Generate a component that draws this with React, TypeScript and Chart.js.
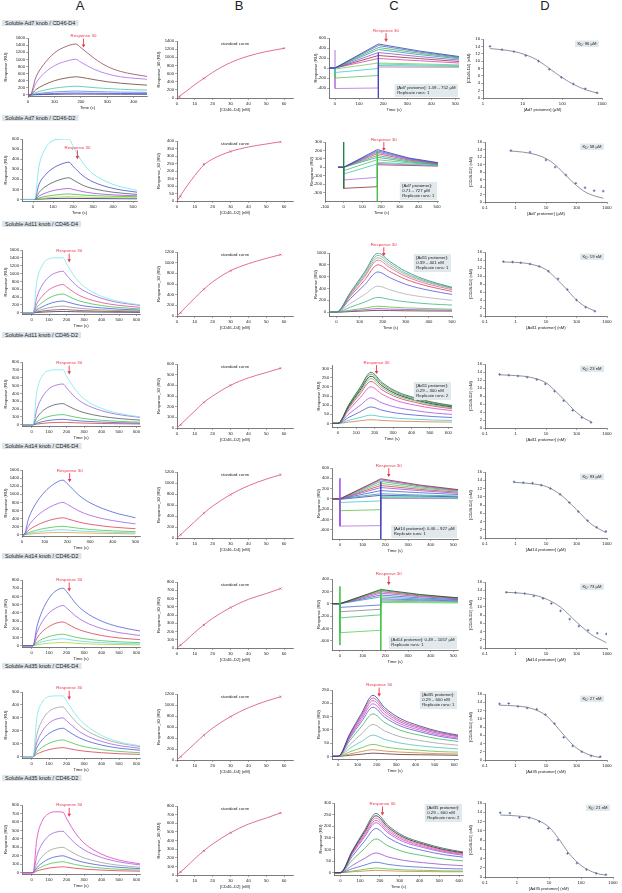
import React, { useEffect, useRef } from "react";
import { Chart, registerables } from "chart.js";

Chart.register(...registerables);

const FONT = "'Liberation Sans', Arial, Helvetica, sans-serif";
const TXT = "#222";
const RED = "#e8364e";

// ---------------- texts ----------------
const COLUMN_LETTERS = ["A", "B", "C", "D"];
const ROW_TITLES = [
  "Soluble Ad7 knob / CD46-D4",
  "Soluble Ad7 knob / CD46-D2",
  "Soluble Ad11 knob / CD46-D4",
  "Soluble Ad11 knob / CD46-D2",
  "Soluble Ad14 knob / CD46-D4",
  "Soluble Ad14 knob / CD46-D2",
  "Soluble Ad35 knob / CD46-D4",
  "Soluble Ad35 knob / CD46-D2",
];
const KD_LABELS = ["96 µM", "58 µM", "19 nM", "23 nM", "93 µM", "73 µM", "27 nM", "21 nM"];
const C_BOXES = [
  ["[Ad7 protomer]: 1.49 – 752 µM", "Replicate runs: 1"],
  ["[Ad7 protomer]:", "0.71 – 727 µM", "Replicate runs: 1"],
  ["[Ad11 protomer]:", "0.39 – 401 nM", "Replicate runs: 1"],
  ["[Ad11 protomer]:", "0.29 – 300 nM", "Replicate runs: 2"],
  ["[Ad14 protomer]: 0.46 – 927 µM", "Replicate runs: 1"],
  ["[Ad14 protomer]: 0.49 – 1057 µM", "Replicate runs: 1"],
  ["[Ad35 protomer]:", "0.29 – 600 nM", "Replicate runs: 1"],
  ["[Ad35 protomer]:", "0.29 – 600 nM", "Replicate runs: 2"],
];
const C_BOX_POS = ["br", "br", "tr", "mr", "br", "br", "tr", "tr"];
const B_X_TITLES = ["[CD46–D4] (nM)", "[CD46–D2] (nM)", "[CD46–D4] (nM)", "[CD46–D2] (nM)", "[CD46–D4] (nM)", "[CD46–D2] (nM)", "[CD46–D4] (nM)", "[CD46–D2] (nM)"];
const D_X_TITLES = ["[Ad7 protomer] (µM)", "[Ad7 protomer] (µM)", "[Ad11 protomer] (nM)", "[Ad11 protomer] (nM)", "[Ad14 protomer] (µM)", "[Ad14 protomer] (µM)", "[Ad35 protomer] (nM)", "[Ad35 protomer] (nM)"];
const D_Y_TITLES = ["[CD46-D4] (nM)", "[CD46-D2] (nM)", "[CD46-D4] (nM)", "[CD46-D2] (nM)", "[CD46-D4] (nM)", "[CD46-D2] (nM)", "[CD46-D4] (nM)", "[CD46-D2] (nM)"];

// ---------------- tick lists ----------------
const XT_400 = [0, 100, 200, 300, 400];
const XT_500 = [0, 100, 200, 300, 400, 500];
const XT_600 = [0, 100, 200, 300, 400, 500, 600];
const XT_M100 = [-100, 0, 100, 200, 300, 400, 500];
const XT_B = [0, 10, 20, 30, 40, 50, 60];
const XT_LOG1 = [1, 10, 100, 1000];
const XT_LOG01 = [0.1, 1, 10, 100, 1000];
const YT_1600 = [0, 200, 400, 600, 800, 1000, 1200, 1400, 1600];
const YT_1400 = [0, 200, 400, 600, 800, 1000, 1200, 1400];
const YT_1200 = [0, 200, 400, 600, 800, 1000, 1200];
const YT_1000 = [0, 200, 400, 600, 800, 1000];
const YT_800 = [0, 100, 200, 300, 400, 500, 600, 700, 800];
const YT_600 = [0, 100, 200, 300, 400, 500, 600];
const YT_500 = [0, 100, 200, 300, 400, 500];
const YT_400_50 = [0, 50, 100, 150, 200, 250, 300, 350, 400];
const YT_300_50 = [0, 50, 100, 150, 200, 250, 300];
const YT_250_50 = [0, 50, 100, 150, 200, 250];
const YT_C1 = [-400, -200, 0, 200, 400, 600];
const YT_C2 = [-300, -200, -100, 0, 100, 200, 300];
const YT_C5 = [-600, -400, -200, 0, 200, 400, 600];
const YT_C6 = [-600, -400, -200, 0, 200, 400];
const YT_16 = [0, 2, 4, 6, 8, 10, 12, 14, 16];

// ---------------- column A sensorgrams ----------------
const A1_T = [0, 8, 30, 60, 100, 140, 180, 200, 250, 300, 350, 400, 450];
const A1_Y = [
  [0, 0, 500, 860, 1180, 1350, 1430, 1330, 1030, 800, 660, 580, 520],
  [0, 0, 330, 600, 820, 940, 1000, 920, 720, 590, 510, 470, 440],
  [0, 0, 150, 280, 400, 470, 510, 495, 430, 370, 330, 300, 275],
  [0, 0, 70, 130, 190, 225, 245, 238, 205, 180, 160, 145, 135],
  [0, 0, 30, 58, 85, 100, 110, 106, 95, 87, 80, 75, 70],
  [0, 0, 14, 28, 40, 50, 55, 53, 48, 44, 41, 38, 36],
  [0, 0, 6, 12, 18, 22, 25, 24, 22, 21, 20, 19, 18],
];
const A1_C = ["#8e4a5a", "#a868f0", "#6e4030", "#40c8a8", "#6080e0", "#5050d0", "#303080"];

const A2_T = [-50, 8, 30, 60, 100, 140, 180, 200, 250, 300, 400, 520];
const A2_Y = [
  [0, 0, 330, 500, 585, 598, 600, 530, 360, 255, 150, 90],
  [0, 0, 150, 240, 310, 350, 370, 330, 235, 175, 110, 72],
  [0, 0, 70, 125, 170, 200, 215, 195, 140, 108, 72, 50],
  [0, 0, 35, 62, 88, 102, 110, 100, 78, 62, 46, 36],
  [0, 0, 16, 30, 42, 50, 55, 51, 44, 38, 32, 27],
  [0, 0, 8, 15, 22, 26, 28, 27, 24, 21, 18, 16],
  [0, 0, 3, 6, 9, 11, 12, 11, 10, 9, 8, 7],
];
const A2_C = ["#6ee8e4", "#4a4ad0", "#505a60", "#a050e0", "#40c040", "#b0d040", "#202080"];

const A3_T = [-50, 8, 30, 60, 100, 140, 180, 200, 250, 300, 400, 500, 620];
const A3_Y = [
  [0, 0, 800, 1200, 1380, 1400, 1400, 1250, 900, 670, 420, 290, 200],
  [0, 0, 400, 700, 920, 1020, 1060, 960, 720, 560, 370, 260, 190],
  [0, 0, 230, 420, 590, 680, 720, 660, 500, 390, 260, 190, 140],
  [0, 0, 140, 260, 380, 450, 480, 445, 340, 270, 185, 135, 100],
  [0, 0, 80, 150, 230, 280, 300, 280, 220, 175, 125, 92, 70],
  [0, 0, 45, 85, 130, 158, 170, 160, 128, 104, 76, 58, 45],
  [0, 0, 22, 42, 64, 78, 85, 81, 66, 55, 42, 33, 26],
  [0, 0, 9, 17, 26, 32, 35, 33, 28, 24, 19, 15, 12],
];
const A3_C = ["#7ae8e8", "#a060e0", "#e04a90", "#40c050", "#4a5ad8", "#909090", "#905030", "#303080"];

const A4_T = [-50, 8, 30, 60, 100, 140, 180, 200, 250, 300, 400, 500, 620];
const A4_Y = [
  [0, 0, 420, 620, 690, 700, 700, 620, 450, 330, 210, 145, 100],
  [0, 0, 200, 350, 460, 505, 520, 470, 350, 270, 180, 130, 95],
  [0, 0, 90, 170, 230, 260, 270, 250, 195, 155, 108, 80, 60],
  [0, 0, 40, 78, 108, 124, 130, 122, 98, 80, 58, 44, 34],
  [0, 0, 20, 40, 57, 66, 70, 66, 55, 46, 35, 27, 21],
  [0, 0, 9, 18, 26, 30, 32, 30, 26, 22, 17, 14, 11],
];
const A4_C = ["#7ae8e8", "#a060e0", "#505a60", "#40c050", "#4a5ad8", "#d04040"];

const A5_T = [0, 8, 30, 60, 100, 140, 180, 200, 250, 300, 400, 500];
const A5_Y = [
  [0, 0, 420, 760, 1060, 1250, 1350, 1260, 980, 790, 560, 420],
  [0, 0, 230, 430, 610, 730, 800, 750, 590, 480, 350, 270],
  [0, 0, 115, 220, 320, 385, 420, 395, 315, 260, 190, 150],
  [0, 0, 55, 108, 158, 192, 210, 198, 160, 132, 98, 78],
  [0, 0, 32, 63, 94, 114, 125, 118, 96, 80, 60, 48],
  [0, 0, 15, 30, 45, 55, 60, 57, 47, 40, 30, 24],
];
const A5_C = ["#5060d8", "#a060e0", "#d84050", "#50c050", "#60d8e0", "#e0a040"];

const A6_T = [-50, 8, 30, 60, 100, 140, 180, 200, 250, 300, 400, 500, 620];
const A6_Y = [
  [0, 0, 230, 420, 580, 670, 700, 660, 520, 420, 300, 230, 180],
  [0, 0, 160, 290, 400, 460, 490, 460, 365, 295, 210, 160, 125],
  [0, 0, 90, 170, 235, 275, 290, 272, 215, 175, 125, 95, 75],
  [0, 0, 42, 80, 112, 132, 140, 132, 105, 86, 62, 48, 38],
  [0, 0, 25, 48, 67, 79, 85, 80, 64, 52, 38, 29, 23],
  [0, 0, 12, 22, 31, 37, 40, 38, 30, 25, 18, 14, 11],
];
const A6_C = ["#5060d8", "#a060e0", "#d84050", "#50c050", "#60d8e0", "#b0d040"];

const A7_T = [-50, 8, 30, 60, 100, 140, 180, 200, 250, 300, 400, 500, 620];
const A7_Y = [
  [0, 0, 300, 420, 465, 470, 470, 430, 330, 255, 165, 115, 85],
  [0, 0, 170, 280, 350, 378, 385, 355, 275, 215, 145, 105, 78],
  [0, 0, 110, 195, 260, 290, 300, 278, 218, 172, 118, 86, 65],
  [0, 0, 70, 130, 180, 208, 220, 205, 162, 130, 90, 66, 50],
  [0, 0, 38, 72, 104, 122, 130, 122, 97, 78, 55, 41, 31],
  [0, 0, 20, 38, 55, 65, 70, 66, 53, 43, 31, 23, 18],
];
const A7_C = ["#7ae8e8", "#a0a0a0", "#a060e0", "#4a5ad8", "#50c050", "#d84050"];

const A8_T = [-50, 8, 30, 60, 100, 140, 180, 200, 250, 300, 400, 500, 620];
const A8_Y = [
  [0, 0, 400, 610, 700, 720, 715, 640, 470, 350, 220, 150, 105],
  [0, 0, 200, 340, 440, 480, 490, 450, 345, 270, 180, 128, 92],
  [0, 0, 100, 190, 260, 290, 300, 280, 220, 175, 120, 88, 65],
  [0, 0, 60, 115, 165, 190, 200, 188, 150, 122, 86, 64, 48],
  [0, 0, 38, 72, 104, 122, 130, 122, 97, 78, 55, 41, 31],
  [0, 0, 20, 38, 55, 65, 70, 66, 53, 43, 31, 23, 18],
];
const A8_C = ["#e040c0", "#a060e0", "#a0a0a0", "#4a5ad8", "#50c050", "#d84050"];

// ---------------- column B standard curves ----------------
const B_CX = [0, 5, 10, 15, 20, 30, 40, 50, 60];
const B_CX2 = [0, 5, 10, 15, 20, 30, 40, 50, 58];
const B1_Y = [0, 160, 330, 480, 630, 870, 1030, 1140, 1220];
const B1_PX = [0, 1.5, 15, 60];
const B1_PY = [0, 25, 480, 1220];
const B2_Y = [0, 90, 170, 240, 280, 330, 360, 380, 395];
const B2_PX = [0, 2, 15, 30, 58];
const B2_PY = [0, 30, 245, 330, 395];
const B3_Y = [0, 170, 340, 500, 640, 850, 980, 1080, 1150];
const B3_PY = [0, 60, 500, 850, 1150];
const B4_Y = [0, 80, 160, 240, 300, 400, 470, 520, 560];
const B4_PY = [0, 30, 240, 400, 560];
const B5_Y = [0, 150, 300, 450, 580, 790, 950, 1070, 1150];
const B5_PY = [0, 60, 450, 790, 1150];
const B6_Y = [0, 90, 190, 280, 360, 490, 590, 660, 720];
const B6_PY = [0, 35, 280, 490, 720];
const B7_Y = [0, 150, 300, 450, 580, 790, 950, 1070, 1150];
const B7_PY = [0, 60, 450, 790, 1150];
const B8_Y = [0, 90, 190, 280, 360, 490, 590, 660, 720];
const B8_PY = [0, 35, 280, 490, 720];
const B_PX = [0, 2, 15, 30, 58];

// ---------------- column C sensorgrams ----------------
const C1_T = [-25, 0, 0, 180, 180, 350, 515];
const C1_Y = [
  [0, 0, 0, 480, 480, 340, 230],
  [0, 0, 0, 450, 450, 320, 215],
  [0, 0, 0, 410, 410, 295, 200],
  [0, 0, 0, 370, 370, 268, 185],
  [0, 0, 0, 310, 310, 228, 160],
  [0, 0, 0, 250, 250, 188, 130],
  [0, 0, 0, 190, 190, 145, 100],
  [0, 0, -20, 100, 100, 82, 62],
  [0, 0, -90, -10, 80, 62, 48],
  [0, 0, -200, -150, 50, 40, 32],
  [0, 0, -410, -400, 20, 18, 15],
];
const C1_C = ["#3040a0", "#4a6ad8", "#40b060", "#30a0a0", "#9050d0", "#903040", "#d040b0", "#70d060", "#40c8d8", "#60c060", "#b070e0"];
const C1_SPIKE = [[0, -20, 0, 360, "#a050e0"], [180, 300, 180, -600, "#4040c0"]];

const C2_T = [-30, 0, 0, 180, 180, 350, 505];
const C2_Y = [
  [0, 0, 0, 210, 210, 110, 55],
  [0, 0, 0, 195, 195, 102, 50],
  [0, 0, 0, 180, 180, 95, 46],
  [0, 0, 0, 162, 162, 86, 42],
  [0, 0, 0, 140, 140, 75, 37],
  [0, 0, 0, 118, 118, 64, 32],
  [0, 0, -40, 90, 90, 52, 28],
  [0, 0, -80, 40, 60, 38, 22],
  [0, 0, -150, -120, 45, 30, 18],
  [0, 0, -250, -230, 30, 22, 14],
];
const C2_C = ["#3040a0", "#4a6ad8", "#a050e0", "#d04060", "#40b060", "#30a0a0", "#60c060", "#40c8b0", "#b070e0", "#903040"];
const C2_SPIKE = [[0, 300, 0, -250, "#208040"], [180, 190, 180, -400, "#40c040"]];

const C3_T = [-30, 0, 60, 120, 180, 230, 300, 400, 500];
const C3_Y = [
  [0, 0, 333, 667, 1000, 860, 690, 530, 420],
  [0, 0, 320, 640, 960, 825, 660, 510, 410],
  [0, 0, 307, 613, 920, 790, 635, 495, 400],
  [0, 0, 293, 587, 880, 755, 605, 470, 380],
  [0, 0, 267, 533, 800, 690, 555, 435, 350],
  [0, 0, 227, 453, 680, 585, 470, 370, 300],
  [0, 0, 147, 293, 440, 380, 305, 245, 200],
  [0, 0, 83, 167, 250, 215, 175, 140, 120],
  [0, 0, 33, 67, 100, 87, 72, 60, 50],
  [0, 0, 20, 40, 60, 52, 45, 38, 32],
  [0, 0, 10, 20, 30, 27, 23, 20, 18],
];
const C3_C = ["#308090", "#50c070", "#a0a0a0", "#e06090", "#d04050", "#4a5ad8", "#b0b0b0", "#40b090", "#60c040", "#a050e0", "#603030"];

const C4_T = [-30, 0, 60, 120, 180, 240, 320, 420, 520, 620];
const C4_Y = [
  [0, 0, 104, 196, 280, 224, 174, 140, 115, 98],
  [0, 0, 100, 189, 270, 216, 167, 135, 111, 95],
  [0, 0, 95, 181, 258, 206, 160, 129, 106, 90],
  [0, 0, 91, 172, 245, 196, 152, 123, 100, 86],
  [0, 0, 85, 161, 230, 184, 143, 115, 94, 80],
  [0, 0, 74, 140, 200, 160, 124, 100, 82, 70],
  [0, 0, 52, 98, 140, 112, 87, 70, 57, 49],
  [0, 0, 33, 63, 90, 72, 56, 45, 37, 32],
  [0, 0, 17, 32, 45, 36, 28, 23, 18, 16],
  [0, 0, 7, 14, 20, 16, 12, 10, 8, 7],
];
const C4_C = ["#306040", "#40a050", "#202020", "#50c060", "#d04060", "#e040c0", "#a050e0", "#4a5ad8", "#40c8d8", "#d08040"];

const C5_T = [-35, 0, 0, 180, 180, 350, 520];
const C5_Y = [
  [0, 0, 0, 390, 390, 270, 180],
  [0, 0, 0, 370, 370, 255, 170],
  [0, 0, 0, 340, 340, 235, 160],
  [0, 0, 0, 300, 300, 210, 150],
  [0, 0, 0, 260, 260, 185, 130],
  [0, 0, 0, 220, 220, 160, 110],
  [0, 0, 0, 160, 160, 120, 85],
  [0, 0, 0, 100, 100, 75, 55],
  [0, 0, -10, 70, 70, 55, 40],
  [0, 0, -70, -40, 45, 35, 28],
  [0, 0, -230, -210, 25, 20, 15],
  [0, 0, -530, -520, 8, 6, 5],
];
const C5_C = ["#803040", "#a050e0", "#40b060", "#60c060", "#d04060", "#9050d0", "#4a5ad8", "#30a0a0", "#4040c0", "#40c8d8", "#60c040", "#b070e0"];
const C5_SPIKE = [[0, 400, 0, -530, "#a050e0"], [180, 330, 180, -780, "#4040c0"]];

const C6_T = [-35, 0, 0, 180, 180, 350, 520];
const C6_Y = [
  [0, 0, 0, 230, 230, 150, 95],
  [0, 0, 0, 215, 215, 140, 90],
  [0, 0, 0, 195, 195, 128, 85],
  [0, 0, 0, 170, 170, 115, 75],
  [0, 0, 0, 140, 140, 95, 65],
  [0, 0, 0, 110, 110, 76, 55],
  [0, 0, -60, -20, 80, 62, 45],
  [0, 0, -130, -90, 60, 48, 38],
  [0, 0, -230, -180, 40, 32, 26],
  [0, 0, -470, -430, 20, 16, 12],
];
const C6_C = ["#204030", "#40a050", "#d04060", "#a050e0", "#4a5ad8", "#30a0a0", "#4a6ad8", "#808890", "#40c070", "#50d050"];
const C6_SPIKE = [[0, 280, 0, -670, "#40c040"], [180, 240, 180, -750, "#40c040"]];

const C7_T = [-30, 0, 60, 120, 180, 240, 320, 420, 520, 620];
const C7_Y = [
  [0, 0, 85, 161, 230, 184, 143, 115, 94, 80],
  [0, 0, 81, 154, 220, 176, 136, 110, 90, 77],
  [0, 0, 78, 147, 210, 168, 130, 105, 86, 74],
  [0, 0, 73, 139, 198, 158, 123, 99, 81, 69],
  [0, 0, 68, 130, 185, 148, 115, 93, 76, 65],
  [0, 0, 59, 112, 160, 128, 99, 80, 66, 56],
  [0, 0, 44, 84, 120, 96, 74, 60, 49, 42],
  [0, 0, 30, 56, 80, 64, 50, 40, 33, 28],
  [0, 0, 17, 32, 45, 36, 28, 23, 18, 16],
  [0, 0, 9, 18, 25, 20, 16, 13, 10, 9],
  [0, 0, 4, 8, 12, 10, 7, 6, 5, 4],
];
const C7_C = ["#2a3a9a", "#d04060", "#a050e0", "#e040c0", "#4a5ad8", "#40b060", "#a0a0a0", "#50c0c0", "#60c040", "#d08040", "#603030"];

const C8_T = [-30, 0, 60, 120, 180, 240, 320, 420, 520, 620];
const C8_Y = [
  [0, 0, 94, 179, 255, 204, 158, 128, 105, 89],
  [0, 0, 91, 172, 245, 196, 152, 123, 100, 86],
  [0, 0, 87, 165, 235, 188, 146, 118, 96, 82],
  [0, 0, 83, 158, 225, 180, 140, 113, 92, 79],
  [0, 0, 80, 151, 215, 172, 133, 108, 88, 75],
  [0, 0, 70, 133, 190, 152, 118, 95, 78, 67],
  [0, 0, 54, 102, 145, 116, 90, 73, 59, 51],
  [0, 0, 31, 60, 85, 68, 53, 43, 35, 30],
  [0, 0, 17, 32, 45, 36, 28, 23, 18, 16],
  [0, 0, 7, 14, 20, 16, 12, 10, 8, 7],
  [0, 0, 4, 7, 10, 8, 6, 5, 4, 4],
];
const C8_C = ["#306060", "#202020", "#e06090", "#e040c0", "#a050e0", "#4a5ad8", "#40b060", "#9050d0", "#4a6ad8", "#60c040", "#d08040"];

// ---------------- column D competition curves ----------------
const D1_PX = [1.5, 3, 6, 12, 25, 47, 95, 190, 380, 750];
const D1_PY = [14, 13.1, 12.6, 11.5, 10, 7.8, 5.6, 3.8, 2.5, 1.4];
const D1_CX = [1.5, 3, 6, 12, 25, 50, 100, 200, 400, 800];
const D1_CY = [13.4, 13.1, 12.6, 11.7, 10.1, 7.8, 5.5, 3.6, 2.2, 1.3];
const D2_PX = [0.7, 3, 10, 20, 45, 95, 190, 380, 750];
const D2_PY = [13.7, 13.3, 11.2, 9.3, 7.2, 5, 3.8, 3.0, 2.9];
const D2_CX = [0.7, 1, 3, 10, 20, 50, 100, 200, 400, 750];
const D2_CY = [13.6, 13.5, 13.0, 11.6, 9.9, 6.7, 4.4, 2.6, 1.6, 1.0];
const D3_PX = [0.4, 0.8, 1.5, 3, 6, 12, 25, 50, 100, 200, 400];
const D3_PY = [13.6, 13.5, 13.3, 13.0, 12.4, 11.2, 9.3, 6.6, 4.0, 2.2, 1.2];
const D3_CX = [0.4, 1, 3, 10, 20, 40, 100, 200, 400];
const D3_CY = [13.5, 13.4, 13.0, 11.6, 9.6, 7.3, 4.0, 2.3, 1.3];
const D4_PX = [0.3, 0.6, 1.2, 2.4, 5, 9.5, 19, 38, 75, 150, 300];
const D4_PY = [13.4, 13.2, 13.0, 12.7, 12.1, 11.0, 9.2, 6.8, 4.4, 2.6, 1.4];
const D4_CX = [0.3, 1, 3, 10, 20, 40, 100, 200, 300];
const D4_CY = [13.3, 13.1, 12.7, 11.3, 9.3, 7.0, 3.9, 2.2, 1.6];
const D5_PX = [0.9, 1.8, 3.6, 7, 14, 29, 58, 115, 230, 460, 930];
const D5_PY = [13.6, 13.4, 13.3, 12.8, 12.0, 10.6, 8.6, 6.4, 4.2, 2.6, 1.6];
const D5_CX = [0.9, 3, 10, 30, 100, 300, 930];
const D5_CY = [13.5, 13.2, 12.5, 10.5, 6.9, 3.4, 1.3];
const D6_PX = [0.5, 1, 2, 4, 8, 15, 30, 60, 120, 240, 480, 950];
const D6_PY = [13.5, 13.4, 13.2, 12.6, 12, 10.8, 9, 7, 5.3, 4.3, 3.6, 3.4];
const D6_CX = [0.5, 2, 8, 30, 100, 300, 950];
const D6_CY = [13.5, 13.2, 12.2, 9.9, 6.3, 3.3, 1.3];
const D7_PX = [0.3, 0.6, 1.2, 2.4, 5, 9.5, 19, 38, 75, 150, 300, 600];
const D7_PY = [13.6, 13.7, 13.0, 12.6, 12.3, 11, 8.8, 5.5, 3.4, 2, 1, 0.8];
const D7_CX = [0.3, 1, 3, 10, 20, 40, 100, 300, 600];
const D7_CY = [13.3, 13.1, 12.6, 10.8, 8.5, 5.9, 2.9, 1.1, 0.6];
const D8_PX = [0.3, 0.6, 1.2, 2.4, 5, 9.5, 19, 38, 75, 150, 300, 600];
const D8_PY = [13.9, 13.8, 12.9, 12.8, 12.0, 10.5, 8.0, 5.1, 3.0, 1.6, 0.8, 0.5];
const D8_CX = [0.3, 1, 3, 10, 20, 40, 100, 300, 600];
const D8_CY = [13.4, 13.2, 12.7, 10.8, 8.3, 5.3, 2.5, 0.8, 0.4];

// ---------------- layout (page pixels) ----------------
const LETTER_X = [80, 239, 394, 545];
const TITLE_Y = [22.5, 118, 224, 335, 446, 556, 666, 778];
const RECT_A = [[28, 38, 147, 96], [22, 139, 137, 201], [22, 250, 140, 314], [22, 362, 140, 426], [22, 470, 140, 536], [22, 580, 140, 647], [22, 692, 140, 758], [22, 805, 140, 874]];
const RECT_B = [[177, 41, 293, 98], [177, 141, 293, 201], [177, 252, 293, 316], [177, 364, 293, 428], [177, 472, 293, 538], [177, 582, 293, 648], [177, 694, 293, 760], [177, 806, 293, 875]];
const RECT_C = [[329, 38, 459, 98], [325, 142, 438, 201], [329, 253, 452, 316], [332, 365, 452, 427], [332, 468, 458, 539], [332, 579, 458, 650], [332, 690, 458, 759], [334, 803, 463, 875]];
const RECT_D = [[483, 39, 602, 98], [485, 142, 607, 202], [485, 252, 607, 316], [485, 364, 607, 428], [485, 472, 607, 538], [485, 582, 607, 648], [485, 694, 607, 760], [485, 803, 613, 877]];

// ---------------- dataset helpers ----------------
const lines = (T, Ys, cols, mono = true) =>
  Ys.map((Y, i) => ({
    data: T.map((x, j) => ({ x, y: Y[j] })),
    borderColor: cols[i % cols.length],
    borderWidth: 0.8,
    pointRadius: 0,
    showLine: true,
    fill: false,
    cubicInterpolationMode: mono ? "monotone" : "default",
    tension: 0,
  }));
const line1 = (X, Y, color, w = 0.8) => ({
  data: X.map((x, i) => ({ x, y: Y[i] })),
  borderColor: color,
  borderWidth: w,
  pointRadius: 0,
  showLine: true,
  fill: false,
  cubicInterpolationMode: "monotone",
});
const marks = (X, Y, color, style = "crossRot") => ({
  data: X.map((x, i) => ({ x, y: Y[i] })),
  showLine: false,
  pointRadius: 1.3,
  pointStyle: style,
  borderColor: color,
  backgroundColor: color,
  borderWidth: 0.7,
});
const spikes = (S) =>
  S.map((s) => ({
    data: [{ x: s[0], y: s[1] }, { x: s[2], y: s[3] }],
    borderColor: s[4],
    borderWidth: 0.8,
    pointRadius: 0,
    showLine: true,
    fill: false,
  }));

const ax = (min, max, ticks, title, type = "linear") => ({ min, max, ticks, title, type });

const A_DATA = [
  [A1_T, A1_Y, A1_C, ax(0, 450, XT_400, "Time (s)"), ax(-30, 1600, YT_1600, "Response (RU)"), [210, 1330]],
  [A2_T, A2_Y, A2_C, ax(-55, 520, XT_500, "Time (s)"), ax(-15, 600, YT_600, "Response (RU)"), [222, 400]],
  [A3_T, A3_Y, A3_C, ax(-55, 620, XT_600, "Time (s)"), ax(-30, 1600, YT_1600, "Response (RU)"), [215, 1280]],
  [A4_T, A4_Y, A4_C, ax(-55, 620, XT_600, "Time (s)"), ax(-15, 800, YT_800, "Response (RU)"), [215, 640]],
  [A5_T, A5_Y, A5_C, ax(0, 520, XT_500, "Time (s)"), ax(-30, 1600, YT_1600, "Response (RU)"), [210, 1300]],
  [A6_T, A6_Y, A6_C, ax(-55, 620, XT_600, "Time (s)"), ax(-15, 800, YT_800, "Response (RU)"), [215, 660]],
  [A7_T, A7_Y, A7_C, ax(-55, 620, XT_600, "Time (s)"), ax(-10, 500, YT_500, "Response (RU)"), [215, 440]],
  [A8_T, A8_Y, A8_C, ax(-55, 620, XT_600, "Time (s)"), ax(-15, 800, YT_800, "Response (RU)"), [215, 660]],
];
const B_DATA = [
  [B_CX, B1_Y, B1_PX, B1_PY, YT_1400, 1400],
  [B_CX2, B2_Y, B2_PX, B2_PY, YT_400_50, 400],
  [B_CX2, B3_Y, B_PX, B3_PY, YT_1200, 1200],
  [B_CX2, B4_Y, B_PX, B4_PY, YT_600, 600],
  [B_CX2, B5_Y, B_PX, B5_PY, YT_1200, 1200],
  [B_CX2, B6_Y, B_PX, B6_PY, YT_800, 800],
  [B_CX2, B7_Y, B_PX, B7_PY, YT_1200, 1200],
  [B_CX2, B8_Y, B_PX, B8_PY, YT_800, 800],
];
const C_DATA = [
  [C1_T, C1_Y, C1_C, false, C1_SPIKE, ax(-25, 515, XT_500, "Time (s)"), ax(-600, 600, YT_C1, "Response (RU)"), [212, 520]],
  [C2_T, C2_Y, C2_C, false, C2_SPIKE, ax(-100, 505, XT_M100, "Time (s)"), ax(-400, 300, YT_C2, "Response (RU)"), [215, 192]],
  [C3_T, C3_Y, C3_C, true, [], ax(-32, 500, XT_500, "Time (s)"), ax(-65, 1000, YT_1000, "Response (RU)"), [205, 944]],
  [C4_T, C4_Y, C4_C, true, [], ax(-32, 620, XT_600, "Time (s)"), ax(-20, 320, YT_300_50, "Response (RU)"), [210, 270]],
  [C5_T, C5_Y, C5_C, false, C5_SPIKE, ax(-35, 520, XT_500, "Time (s)"), ax(-780, 600, YT_C5, "Response (RU)"), [215, 423]],
  [C6_T, C6_Y, C6_C, false, C6_SPIKE, ax(-35, 520, XT_500, "Time (s)"), ax(-750, 400, YT_C6, "Response (RU)"), [215, 300]],
  [C7_T, C7_Y, C7_C, true, [], ax(-32, 620, XT_600, "Time (s)"), ax(-10, 250, YT_250_50, "Response (RU)"), [212, 225]],
  [C8_T, C8_Y, C8_C, true, [], ax(-32, 620, XT_600, "Time (s)"), ax(-10, 300, YT_300_50, "Response (RU)"), [213, 246]],
];
const D_DATA = [
  [D1_PX, D1_PY, D1_CX, D1_CY, 1],
  [D2_PX, D2_PY, D2_CX, D2_CY, 0.1],
  [D3_PX, D3_PY, D3_CX, D3_CY, 0.1],
  [D4_PX, D4_PY, D4_CX, D4_CY, 0.1],
  [D5_PX, D5_PY, D5_CX, D5_CY, 0.1],
  [D6_PX, D6_PY, D6_CX, D6_CY, 0.1],
  [D7_PX, D7_PY, D7_CX, D7_CY, 0.1],
  [D8_PX, D8_PY, D8_CX, D8_CY, 0.1],
];

function buildPanels() {
  const out = [];
  for (let r = 0; r < 8; r++) {
    const a = A_DATA[r];
    out.push({ key: "a" + r, rect: RECT_A[r], yw: r === 0 ? 25 : 19, x: a[3], y: a[4], datasets: lines(a[0], a[1], a[2]), resp: a[5] });
    const b = B_DATA[r];
    out.push({
      key: "b" + r, rect: RECT_B[r], yw: 21,
      x: ax(0, 65, XT_B, B_X_TITLES[r]), y: ax(0, b[5], b[4], "Response_30 (RU)"),
      datasets: [line1(b[0], b[1], "#e0607e", 0.9), marks(b[2], b[3], "#c04060")],
      std: true,
    });
    const c = C_DATA[r];
    out.push({
      key: "c" + r, rect: RECT_C[r], yw: 16, x: c[5], y: c[6],
      datasets: [...spikes(c[4]), ...lines(c[0], c[1], c[2], c[3])],
      resp: c[7], box: { lines: C_BOXES[r], pos: C_BOX_POS[r] },
    });
    const d = D_DATA[r];
    out.push({
      key: "d" + r, rect: RECT_D[r], yw: 17,
      x: ax(d[4], 1000, d[4] === 1 ? XT_LOG1 : XT_LOG01, D_X_TITLES[r], "logarithmic"),
      y: ax(0, 16, YT_16, D_Y_TITLES[r]),
      datasets: [line1(d[2], d[3], "#707880", 0.8), marks(d[0], d[1], "#3a4aa0", "cross")],
      kd: KD_LABELS[r],
    });
  }
  return out;
}

// ---------------- decoration plugin ----------------
function decoPlugin(cfg) {
  return {
    id: "deco",
    afterDraw(chart) {
      const { ctx, chartArea: ca, scales } = chart;
      ctx.save();
      if (cfg.resp) {
        const px = scales.x.getPixelForValue(cfg.resp[0]);
        const py = scales.y.getPixelForValue(cfg.resp[1]);
        ctx.strokeStyle = RED;
        ctx.fillStyle = RED;
        ctx.lineWidth = 0.9;
        ctx.beginPath();
        ctx.moveTo(px, py - 9);
        ctx.lineTo(px, py - 2.5);
        ctx.stroke();
        ctx.beginPath();
        ctx.moveTo(px - 1.8, py - 3.2);
        ctx.lineTo(px + 1.8, py - 3.2);
        ctx.lineTo(px, py);
        ctx.closePath();
        ctx.fill();
        ctx.font = `4.4px ${FONT}`;
        ctx.textAlign = "center";
        ctx.textBaseline = "bottom";
        ctx.fillText("Response 30", px, py - 9.5);
      }
      if (cfg.box) {
        ctx.font = `4.3px ${FONT}`;
        const lh = 5.2;
        const w = Math.max(...cfg.box.lines.map((s) => ctx.measureText(s).width)) + 5;
        const h = cfg.box.lines.length * lh + 2.5;
        const x = ca.right - w - 1;
        let y = ca.bottom - h - 1;
        if (cfg.box.pos === "tr") y = ca.top + 1;
        if (cfg.box.pos === "mr") y = ca.top + (ca.bottom - ca.top) * 0.42 - h / 2;
        ctx.fillStyle = "#e2e9ed";
        ctx.fillRect(x, y, w, h);
        ctx.fillStyle = TXT;
        ctx.textAlign = "left";
        ctx.textBaseline = "top";
        cfg.box.lines.forEach((s, i) => ctx.fillText(s, x + 2.5, y + 1.5 + i * lh));
      }
      if (cfg.kd) {
        ctx.font = `4.2px ${FONT}`;
        const rest = ": " + cfg.kd;
        const wk = ctx.measureText("K").width;
        ctx.font = `3px ${FONT}`;
        const wd = ctx.measureText("D").width;
        ctx.font = `4.2px ${FONT}`;
        const wr = ctx.measureText(rest).width;
        const w = wk + wd + wr + 5;
        const x = ca.right - w - 3;
        const y = ca.top + 1.5;
        ctx.fillStyle = "#e2e9ed";
        ctx.fillRect(x, y, w, 6.5);
        ctx.fillStyle = TXT;
        ctx.textBaseline = "alphabetic";
        ctx.textAlign = "left";
        ctx.fillText("K", x + 2.5, y + 4.8);
        ctx.font = `3px ${FONT}`;
        ctx.fillText("D", x + 2.5 + wk, y + 5.6);
        ctx.font = `4.2px ${FONT}`;
        ctx.fillText(rest, x + 2.5 + wk + wd, y + 4.8);
      }
      if (cfg.std) {
        ctx.font = `4.3px ${FONT}`;
        ctx.fillStyle = TXT;
        ctx.textAlign = "center";
        ctx.textBaseline = "top";
        ctx.fillText("standard curve", (ca.left + ca.right) / 2, ca.top + 0.5);
      }
      ctx.restore();
    },
  };
}

const PAD = { left: 2, top: 16, right: 9, bottom: 1 };
const XH = 15;

function Panel({ cfg }) {
  const ref = useRef(null);
  const [l, t, r, b] = cfg.rect;
  const left = l - cfg.yw - PAD.left;
  const top = t - PAD.top;
  const w = Math.round(r + PAD.right - left);
  const h = Math.round(b + XH + PAD.bottom - top);
  useEffect(() => {
    const tickFont = { size: 4.2, family: FONT };
    const fmt = (v) => String(+(+v).toPrecision(6));
    const mkAxis = (a, isX) => ({
      type: a.type,
      min: a.min,
      max: a.max,
      afterBuildTicks: (s) => {
        s.ticks = a.ticks.map((v) => ({ value: v }));
      },
      afterFit: (s) => {
        if (isX) s.height = XH;
        else s.width = cfg.yw;
      },
      ticks: { font: tickFont, color: TXT, padding: 1, maxRotation: 0, minRotation: 0, autoSkip: false, callback: fmt },
      grid: { drawOnChartArea: false, drawTicks: true, tickLength: 2, color: "#555", lineWidth: 0.5 },
      border: { display: true, color: "#444", width: 0.7 },
      title: { display: true, text: a.title, font: tickFont, color: TXT, padding: isX ? { top: 1, bottom: 1 } : { top: 0, bottom: 1 } },
    });
    const chart = new Chart(ref.current, {
      type: "scatter",
      data: { datasets: cfg.datasets },
      options: {
        animation: false,
        responsive: false,
        maintainAspectRatio: false,
        devicePixelRatio: 1,
        events: [],
        layout: { padding: { left: PAD.left, top: PAD.top, right: PAD.right, bottom: PAD.bottom } },
        plugins: { legend: { display: false }, tooltip: { enabled: false }, title: { display: false } },
        scales: { x: mkAxis(cfg.x, true), y: mkAxis(cfg.y, false) },
      },
      plugins: [decoPlugin(cfg)],
    });
    return () => chart.destroy();
  }, []);
  return <canvas ref={ref} width={w} height={h} style={{ position: "absolute", left, top, width: w, height: h }} />;
}

export default function App() {
  const panels = buildPanels();
  return (
    <div style={{ position: "absolute", left: 0, top: 0, width: 622, height: 893, background: "#fff", overflow: "hidden", fontFamily: FONT }}>
      {COLUMN_LETTERS.map((c, i) => (
        <div key={c} style={{ position: "absolute", left: LETTER_X[i] - 10, width: 20, top: -1, textAlign: "center", fontSize: 13, lineHeight: "13px", color: "#222" }}>{c}</div>
      ))}
      {ROW_TITLES.map((s, i) => (
        <div key={s} style={{ position: "absolute", left: 2, top: TITLE_Y[i] - 3, transformOrigin: "0 0", transform: "scale(0.5)", background: "#dde5eb", fontSize: 11, lineHeight: "12px", padding: "0 6px", color: "#222", whiteSpace: "nowrap" }}>{s}</div>
      ))}
      {panels.map((p) => (
        <Panel key={p.key} cfg={p} />
      ))}
    </div>
  );
}
